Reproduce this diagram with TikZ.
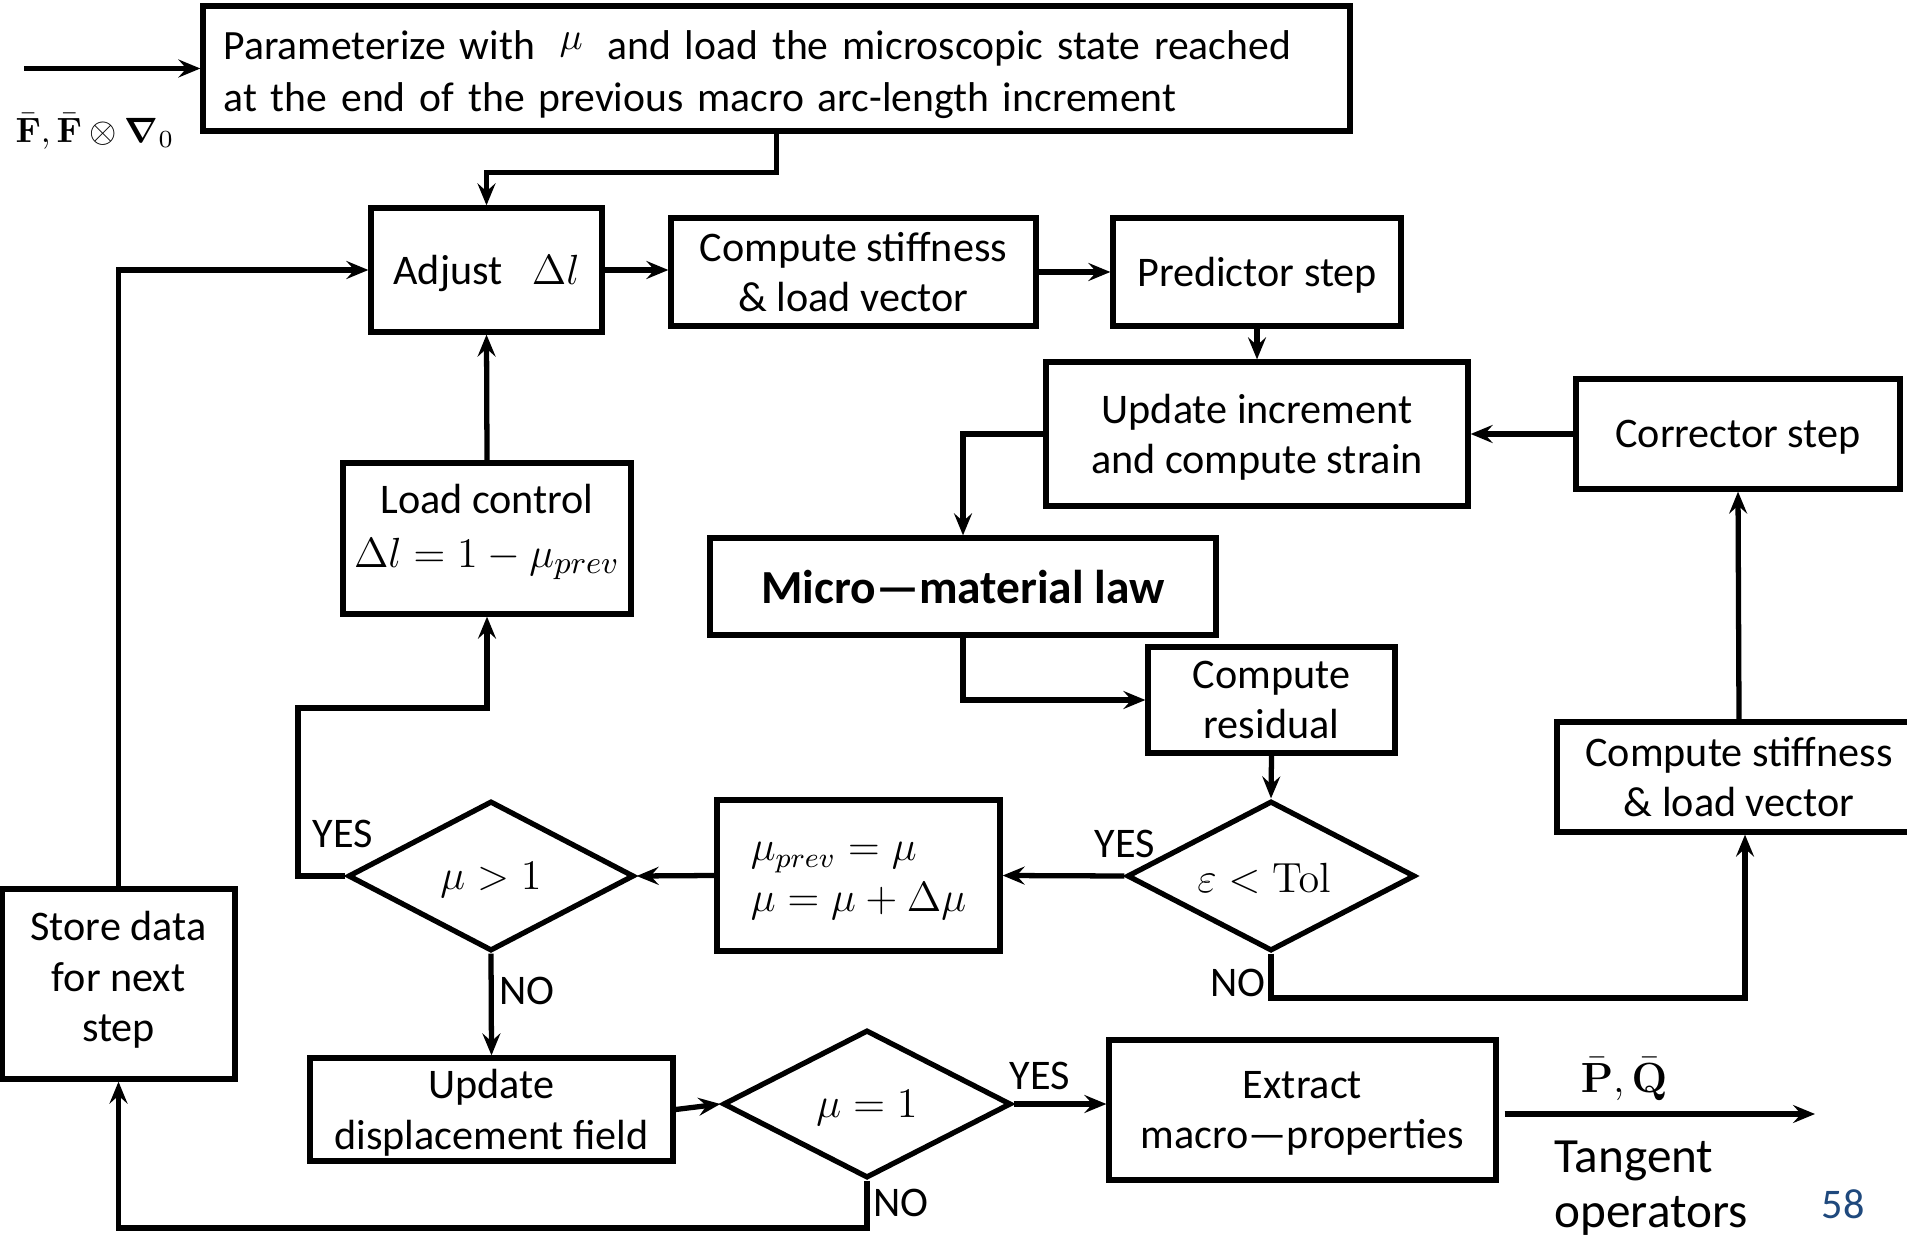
\documentclass[tikz,border=0pt]{standalone}
\usepackage{amsmath,amssymb}
\usepackage[no-math]{fontspec}
\setmainfont{Carlito}
\usetikzlibrary{shapes.geometric,arrows.meta,calc}
\definecolor{pagenum}{RGB}{31,73,125}
\begin{document}
\begin{tikzpicture}[x=0.1mm,y=-0.1mm,
  every node/.style={font=\fontsize{12}{14.4}\selectfont},
  box/.style={draw,line width=1.5pt,rectangle,align=center,inner sep=0pt,text depth=0pt},
  dec/.style={draw,line width=1.5pt,diamond,inner sep=0pt,text depth=0pt},
  flow/.style={line width=1.5pt,-{Stealth[length=2.2mm,width=1.8mm,inset=0.8mm]}},
  lbl/.style={inner sep=0pt}]
\fill[white] (0,0) rectangle (1907,1235);
\clip (0,0) rectangle (1907,1235);

% ---- boxes ----
\node[box,minimum width=114.7mm,minimum height=12.5mm] (top) at (776.5,68.5) {};
\node[lbl,text width=110.6mm,align=left,font=\fontsize{11.85}{14.6}\selectfont] (toptext) at (776.5,74.5)
  {Parameterize with\hspace{7pt}\raisebox{2.8pt}{\fontsize{11}{13}\selectfont$\mu$}\hspace{7pt}and load the microscopic state reached\\at the end of the previous macro arc-length increment};
\node[box,minimum width=23.1mm,minimum height=12.4mm] (adj) at (486.5,270) {Adjust\hspace{0.7em}$\Delta l$};
\node[box,minimum width=36.5mm,minimum height=10.8mm] (cs1) at (853.5,272) {Compute stiffness\\\& load vector};
\node[box,minimum width=28.8mm,minimum height=10.8mm] (pred) at (1257,272) {Predictor step};
\node[box,minimum width=42.2mm,minimum height=14.4mm] (upd) at (1257,434) {Update increment\\and compute strain};
\node[box,minimum width=32.4mm,minimum height=11mm] (corr) at (1738,434) {Corrector step};
\node[box,minimum width=50.6mm,minimum height=9.7mm,font=\fontsize{13.5}{16}\selectfont\bfseries] (micro) at (963,586.5) {Micro—material law};
\node[box,minimum width=24.7mm,minimum height=10.6mm] (res) at (1271.5,700) {Compute\\residual};
\node[dec,minimum width=28.8mm,minimum height=15mm] (tol) at (1271,876) {};
\node[lbl,font=\fontsize{12.4}{15}\selectfont] (toltext) at (1264,878) {$\varepsilon<\mathrm{Tol}$};
\node[box,minimum width=28.3mm,minimum height=15.1mm] (prev) at (858.5,875.5) {};
\node[lbl,align=left] (prevtext) at (858.5,881) {$\mu_{prev}=\mu$\\$\mu=\mu+\Delta\mu$};
\node[dec,minimum width=28.6mm,minimum height=15mm] (gt1) at (491,876) {$\mu>1$};
\node[box,minimum width=28.8mm,minimum height=15.1mm] (lc) at (487,538.5) {};
\node[lbl,align=center] (lctext) at (487,532) {Load control\\[1pt]{\fontsize{12.9}{15}\selectfont$\Delta l=1-\mu_{prev}$}\hspace{3.4pt}};
\node[box,minimum width=23.3mm,minimum height=19mm] (store) at (118.5,984) {};
\node[lbl,align=center] (storetext) at (118.5,980) {Store data\\for next\\step};
\node[box,minimum width=36.3mm,minimum height=10.3mm] (disp) at (491.5,1109.5) {Update\\displacement field};
\node[dec,minimum width=28.8mm,minimum height=14.8mm] (eq1) at (867,1104) {$\mu=1$};
\node[box,minimum width=38.7mm,minimum height=14mm] (ext) at (1302.5,1110) {Extract\\macro—properties};
\node[box,minimum width=36.4mm,minimum height=11mm] (cs2) at (1739,777) {Compute stiffness\\\& load vector};

% ---- free ends and corners ----
\coordinate (inp) at (24,68.5);
\coordinate (outp) at (1815,1114);
\coordinate (yesturn) at (298,708);
\coordinate (nobot) at (0,998);
\coordinate (loopbot) at (0,1228);

% ---- connectors ----
\draw[flow] (inp) -- (top.west);
\draw[flow] (top.south) -- ++(0,39) -| (adj.north);
\draw[flow] (adj.east) -- (adj.east -| cs1.west);
\draw[flow] (cs1.east) -- (pred.west);
\draw[flow] (pred.south) -- (upd.north);
\draw[flow] (corr.west) -- (upd.east);
\draw[flow] (upd.west) -| (micro.north);
\draw[flow] (micro.south) |- (res.west);
\draw[flow] (res.south) -- (tol.north);
\draw[flow] (tol.west) -- (prev.east);
\draw[flow] (prev.west) -- (gt1.east);
\draw[flow] (gt1.west) -| (yesturn) -| (lc.south);
\draw[flow] (lc.north) -- (adj.south);
\draw[flow] (store.north) |- (adj.west);
\draw[flow] (gt1.south) -- (disp.north);
\draw[flow] (disp.east) -- (eq1.west);
\draw[flow] (eq1.east) -- (eq1.east -| ext.west);
\draw[flow] (eq1.south) -- (eq1.south |- loopbot) -| (store.south);
\draw[flow] (tol.south) -- (tol.south |- nobot) -| ([xshift=0.6mm]cs2.south);
\draw[flow] (cs2.north) -- (corr.south);
\draw[flow] ([xshift=0.6mm]ext.east |- outp) -- (outp);

% ---- labels ----
\node[lbl,font=\fontsize{10}{12}\selectfont] (fin) at (95,131) {$\bar{\mathbf F},\bar{\mathbf F}\otimes\boldsymbol{\nabla}_0$};
\node[lbl] (yes1) at (1125,844) {YES};
\node[lbl] (yes2) at (343,834) {YES};
\node[lbl] (no1) at (527,991) {NO};
\node[lbl] (yes3) at (1040,1076) {YES};
\node[lbl] (no2) at (901,1203) {NO};
\node[lbl] (no3) at (1238,983) {NO};
\node[lbl] (pq) at (1624,1079) {$\bar{\mathbf P},\bar{\mathbf Q}$};
\node[lbl,align=left,anchor=north west,font=\fontsize{14}{15.6}\selectfont] (tang) at (1554,1140) {Tangent\\operators};
\node[lbl,text=pagenum] (pg) at (1843,1204) {58};
\end{tikzpicture}
\end{document}
